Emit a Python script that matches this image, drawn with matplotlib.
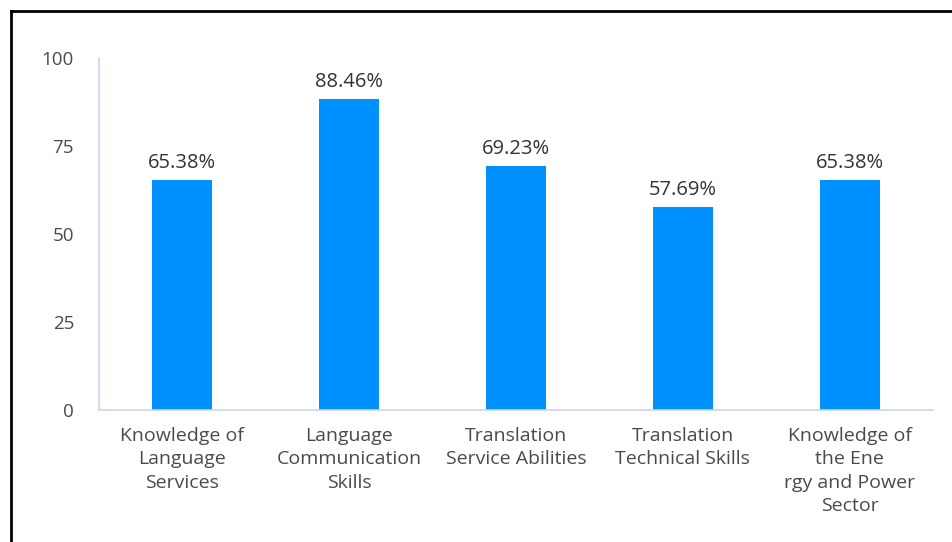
import matplotlib
matplotlib.use("Agg")
import matplotlib.pyplot as plt
from matplotlib.lines import Line2D

categories = [
    "Knowledge of\nLanguage\nServices",
    "Language\nCommunication\nSkills",
    "Translation\nService Abilities",
    "Translation\nTechnical Skills",
    "Knowledge of\nthe Ene\nrgy and Power\nSector",
]
values = [65.38, 88.46, 69.23, 57.69, 65.38]
yticks = [0, 25, 50, 75, 100]

plt.rcParams["font.family"] = ["Open Sans", "DejaVu Sans"]

fig = plt.figure(figsize=(9.52, 5.42), dpi=100)
ax = fig.add_axes([0.104, 0.2435, 0.876, 0.6495])

x = list(range(len(categories)))
bars = ax.bar(x, values, width=0.36, color="#0091FF", zorder=2)

for xi, v in zip(x, values):
    ax.text(xi, v + 2.0, f"{v:.2f}%", ha="center", va="bottom",
            fontsize=14.5, color="#333333")

ax.set_xlim(-0.5, len(categories) - 0.5)
ax.set_ylim(0, 100)
ax.set_yticks(yticks)
ax.set_yticklabels([str(t) for t in yticks])
ax.set_xticks(x)
ax.set_xticklabels(categories, linespacing=1.4)

ax.tick_params(axis="y", length=0, pad=18, labelsize=13.5, labelcolor="#4a4a4a")
ax.tick_params(axis="x", length=0, pad=12, labelsize=14, labelcolor="#4a4a4a")

for side in ["top", "right"]:
    ax.spines[side].set_visible(False)
for side in ["left", "bottom"]:
    ax.spines[side].set_color("#ccd6eb")
    ax.spines[side].set_linewidth(1.2)

# outer frame (left and top edges only)
fx = 11 / 952
fy = 1 - 11 / 542
fig.add_artist(Line2D([fx, fx], [0, fy], transform=fig.transFigure,
                      color="black", linewidth=2))
fig.add_artist(Line2D([fx, 1], [fy, fy], transform=fig.transFigure,
                      color="black", linewidth=2))

fig.savefig("out.png", dpi=100)
